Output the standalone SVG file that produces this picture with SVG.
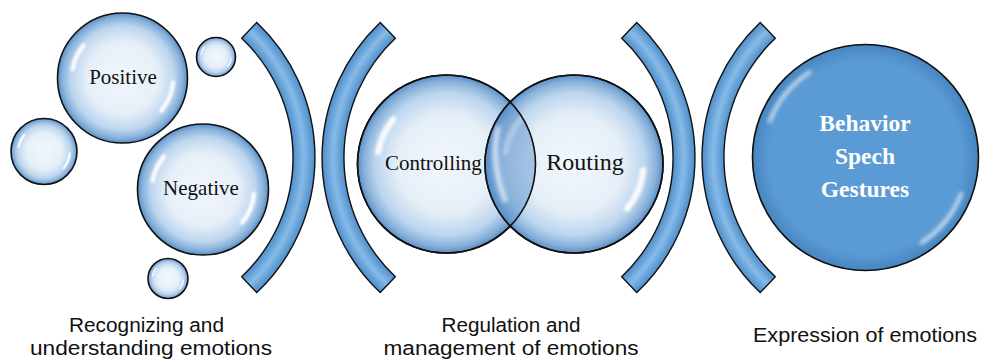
<svg xmlns="http://www.w3.org/2000/svg" xmlns:xlink="http://www.w3.org/1999/xlink" width="982" height="360" viewBox="0 0 982 360">
  <style>
    .bubble { fill: url(#bubbleFill); stroke: #111; stroke-width: 1.6; }
    .outline { fill: none; stroke: #111; stroke-width: 1.6; }
    .bracket { fill: url(#bracketFill); stroke: #111; stroke-width: 1.4; stroke-linejoin: miter; }
    .serif { font-family: "Liberation Serif", "Times New Roman", serif; fill: #111; }
    .caption { font-family: "Liberation Sans", Arial, sans-serif; font-size: 19.5px; fill: #111; text-anchor: middle; }
    .gloss { fill: none; stroke: #fff; stroke-linecap: round; }
  </style>
  <defs>
    <radialGradient id="bubbleFill" cx="0.5" cy="0.5" r="0.5">
      <stop offset="0" stop-color="#f1f6fc"/>
      <stop offset="0.55" stop-color="#e6eff8"/>
      <stop offset="0.8" stop-color="#bcd5ee"/>
      <stop offset="0.93" stop-color="#86b0da"/>
      <stop offset="1" stop-color="#5a8ec4"/>
    </radialGradient>
    <radialGradient id="rimShade" cx="0.5" cy="0.5" r="0.5">
      <stop offset="0.85" stop-color="#2e6aa6" stop-opacity="0"/>
      <stop offset="1" stop-color="#2e6aa6" stop-opacity="0.45"/>
    </radialGradient>
    <radialGradient id="bracketFill" gradientUnits="userSpaceOnUse" cx="0" cy="0" r="186">
      <stop offset="0.88" stop-color="#4d8dca"/>
      <stop offset="0.94" stop-color="#86bbe8"/>
      <stop offset="1" stop-color="#4d8dca"/>
    </radialGradient>
    <filter id="soft" x="-50%" y="-50%" width="200%" height="200%">
      <feGaussianBlur stdDeviation="2"/>
    </filter>
    <!-- glossy highlights for a bubble of radius 100 centred on the origin -->
    <g id="gloss">
      <path class="gloss" d="M -76.8 -13.5 A 78 78 0 0 1 -59.8 -50.1" stroke-width="7" opacity="0.9" filter="url(#soft)"/>
      <path class="gloss" d="M 77.7 6.8 A 78 78 0 0 1 59.8 50.1" stroke-width="7" opacity="0.9" filter="url(#soft)"/>
    </g>
    <!-- curved separator, opening to the left, centred on the origin -->
    <path id="arcBand" class="bracket" d="M 127.8 -135.1 A 186 186 0 0 1 127.8 135.1 L 112.7 119.2 A 164 164 0 0 0 112.7 -119.2 Z"/>
  </defs>

  <!-- first stage: recognizing emotions -->
  <g id="bubble-positive">
    <circle class="bubble" cx="122.5" cy="78" r="65"/>
    <use xlink:href="#gloss" transform="translate(122.5 78) scale(0.65)"/>
    <text class="serif" x="123" y="84" font-size="21" text-anchor="middle">Positive</text>
  </g>
  <g id="bubble-small-top">
    <circle class="bubble" cx="216" cy="57" r="19.5"/>
    <use xlink:href="#gloss" transform="translate(216 57) scale(0.195)"/>
  </g>
  <g id="bubble-left">
    <circle class="bubble" cx="44" cy="151.5" r="33"/>
    <use xlink:href="#gloss" transform="translate(44 151.5) scale(0.33)"/>
  </g>
  <g id="bubble-negative">
    <circle class="bubble" cx="203" cy="189.5" r="65.5"/>
    <use xlink:href="#gloss" transform="translate(203 189.5) scale(0.655)"/>
    <text class="serif" x="201" y="195" font-size="21" text-anchor="middle">Negative</text>
  </g>
  <g id="bubble-small-bottom">
    <circle class="bubble" cx="168" cy="278.5" r="20"/>
    <use xlink:href="#gloss" transform="translate(168 278.5) scale(0.2)"/>
  </g>

  <!-- curved separators -->
  <g id="separator-1"><use xlink:href="#arcBand" transform="translate(129 157.5)"/></g>
  <g id="separator-2"><use xlink:href="#arcBand" transform="translate(508 157.5) scale(-1 1)"/></g>
  <g id="separator-3"><use xlink:href="#arcBand" transform="translate(509 157.5)"/></g>
  <g id="separator-4"><use xlink:href="#arcBand" transform="translate(888 157.5) scale(-1 1)"/></g>

  <!-- second stage: regulation -->
  <g id="bubble-controlling">
    <circle class="bubble" cx="446.5" cy="164" r="89"/>
    <use xlink:href="#gloss" transform="translate(446.5 164) scale(0.89)"/>
  </g>
  <g id="bubble-routing">
    <circle class="bubble" cx="574" cy="164" r="89"/>
    <use xlink:href="#gloss" transform="translate(574 164) scale(0.89)"/>
    <!-- overlap lens -->
    <path d="M 510.25 101.9 A 89 89 0 0 1 510.25 226.1 A 89 89 0 0 1 510.25 101.9 Z" fill="#4f8ac6" opacity="0.45"/>
    <path class="gloss" d="M 498 128 Q 490 160 505 200" stroke-width="5" opacity="0.7" filter="url(#soft)"/>
    <circle class="outline" cx="446.5" cy="164" r="89"/>
    <circle class="outline" cx="574" cy="164" r="89"/>
    <text class="serif" x="585" y="170" font-size="24" text-anchor="middle">Routing</text>
  </g>
  <text class="serif" x="385" y="170" font-size="21">Controlling</text>

  <!-- third stage: expression -->
  <g id="bubble-expression">
    <circle cx="865.5" cy="157.5" r="113" fill="#5b9bd5"/>
    <circle cx="865.5" cy="157.5" r="113" fill="url(#rimShade)"/>
    <path class="gloss" d="M 769.6 121.6 A 102 102 0 0 1 810 72" stroke-width="3" opacity="0.9" filter="url(#soft)"/>
    <path class="gloss" d="M 961.4 193.4 A 102 102 0 0 1 921 243" stroke-width="3" opacity="0.9" filter="url(#soft)"/>
    <circle class="outline" cx="865.5" cy="157.5" r="113"/>
    <g font-family="Liberation Serif, Times New Roman, serif" font-weight="bold" font-size="23.5" fill="#fff" text-anchor="middle">
      <text x="865" y="130.5">Behavior</text>
      <text x="865" y="163.5">Spech</text>
      <text x="865" y="196.5">Gestures</text>
    </g>
  </g>

  <!-- stage captions -->
  <g id="captions">
    <text class="caption" x="146.5" y="332" textLength="155" lengthAdjust="spacingAndGlyphs">Recognizing and</text>
    <text class="caption" x="151" y="355" textLength="242" lengthAdjust="spacingAndGlyphs">understanding emotions</text>
    <text class="caption" x="511" y="332" textLength="139" lengthAdjust="spacingAndGlyphs">Regulation and</text>
    <text class="caption" x="511" y="355" textLength="255" lengthAdjust="spacingAndGlyphs">management of emotions</text>
    <text class="caption" x="865" y="342" textLength="224" lengthAdjust="spacingAndGlyphs">Expression of emotions</text>
  </g>
</svg>
